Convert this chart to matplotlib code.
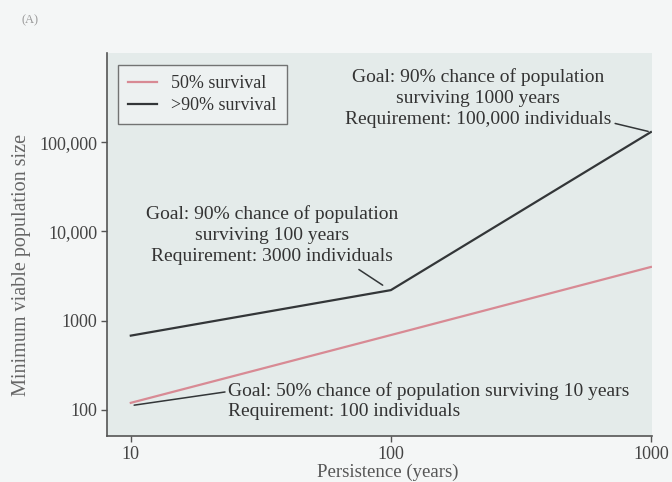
import matplotlib
matplotlib.use("Agg")
import matplotlib.pyplot as plt

persistence = [10, 100, 1000]
survival_50 = [120, 690, 4000]
survival_90 = [680, 2200, 130000]
xticks = [10, 100, 1000]
xtick_labels = ["10", "100", "1000"]
yticks = [100, 1000, 10000, 100000]
ytick_labels = ["100", "1000", "10,000", "100,000"]

plt.rcParams['font.family'] = ['Liberation Serif', 'DejaVu Serif']

fig = plt.figure(figsize=(6.72, 4.82), dpi=100)
fig.patch.set_facecolor('#f4f6f6')
W, H = 672, 482
ax = fig.add_axes([107 / W, 1 - 436 / H, (652 - 107) / W, (436 - 53) / H])
ax.set_facecolor('#e4ebea')
ax.set_xscale('log')
ax.set_yscale('log')
ax.set_xlim(8.1, 1010)
ax.set_ylim(51, 1.0e6)

red = '#d88a94'
dark = '#333638'
ax.plot(persistence, survival_50, color=red, lw=1.6, label='50% survival')
ax.plot(persistence, survival_90, color=dark, lw=1.6, label='>90% survival')

ax.set_xticks(xticks)
ax.set_xticklabels(xtick_labels)
ax.set_yticks(yticks)
ax.set_yticklabels(ytick_labels)
ax.minorticks_off()
ax.tick_params(axis='both', direction='out', length=4, width=1, colors='#555555',
               labelsize=13, labelcolor='#444444', pad=3)
for s in ['top', 'right']:
    ax.spines[s].set_visible(False)
for s in ['left', 'bottom']:
    ax.spines[s].set_color('#555555')
    ax.spines[s].set_linewidth(1.2)

ax.set_xlabel('Persistence (years)', fontsize=13.5, color='#555555')
ax.xaxis.set_label_coords((388 - 107) / (652 - 107), -(472 - 436) / (436 - 53))
ax.xaxis.label.set_va('center')
ax.set_ylabel('Minimum viable population size', fontsize=14.5, color='#666666')
ax.yaxis.set_label_coords(-(107 - 22) / (652 - 107), (436 - 265) / (436 - 53))
ax.yaxis.label.set_va('center')

leg = ax.legend(loc='upper left', bbox_to_anchor=(11 / 545, 1 - 12 / 383), fontsize=13,
                frameon=True, fancybox=False, handlelength=1.6, borderpad=0.55,
                labelspacing=0.3, borderaxespad=0, handletextpad=0.8,
                edgecolor='#555555', facecolor='#f0f3f3')
leg.get_frame().set_linewidth(1.0)
for t in leg.get_texts():
    t.set_color('#333333')

tc = '#333333'
fs = 14
ax.annotate('Goal: 90% chance of population\nsurviving 1000 years\nRequirement: 100,000 individuals',
            xy=(1000, 130000), xytext=(216, 310000), textcoords='data',
            ha='center', va='center', fontsize=fs, color=tc, linespacing=1.32,
            arrowprops=dict(arrowstyle='-', color=dark, lw=1.1,
                            shrinkA=1, shrinkB=2, relpos=(1.0, 0.1)))
ax.annotate('Goal: 90% chance of population\nsurviving 100 years\nRequirement: 3000 individuals',
            xy=(94, 2450), xytext=(34.8, 9100), textcoords='data',
            ha='center', va='center', fontsize=fs, color=tc, linespacing=1.32,
            arrowprops=dict(arrowstyle='-', color=dark, lw=1.1,
                            shrinkA=2, shrinkB=1, relpos=(0.82, 0.0)))
ax.annotate('Goal: 50% chance of population surviving 10 years\nRequirement: 100 individuals',
            xy=(10.3, 113), xytext=(23.6, 126), textcoords='data',
            ha='left', va='center', fontsize=fs, color=tc, linespacing=1.2,
            arrowprops=dict(arrowstyle='-', color=dark, lw=1.1,
                            shrinkA=0, shrinkB=0, relpos=(0.0, 0.75)))

fig.text(22 / W, 1 - 20 / H, '(A)', fontsize=9, color='#999999', va='center')

fig.savefig('out.png', dpi=100, facecolor=fig.get_facecolor())
